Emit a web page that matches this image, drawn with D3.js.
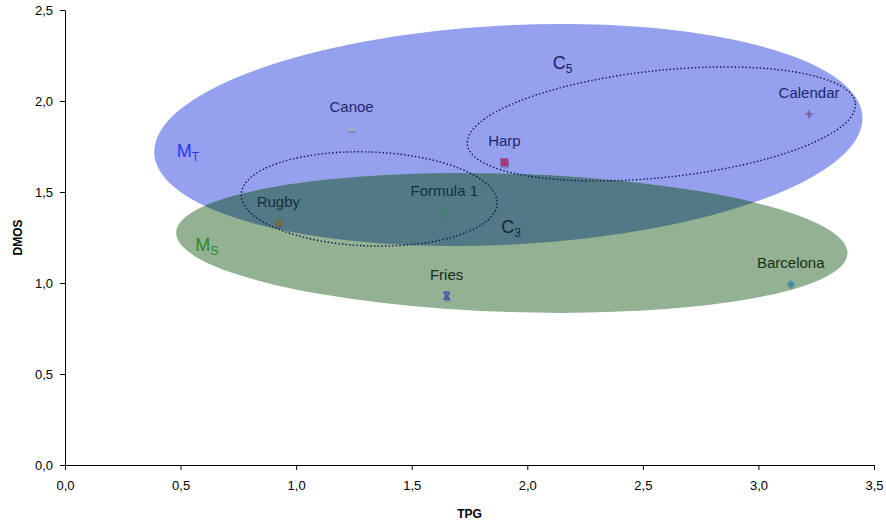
<!DOCTYPE html>
<html><head><meta charset="utf-8">
<script src="https://cdn.jsdelivr.net/npm/d3@7/dist/d3.min.js"></script>
<style>
body{margin:0;background:#fff}
svg{display:block}
text{font-family:"Liberation Sans",Arial,sans-serif}
</style>
</head><body>
<svg id="chart" width="886" height="526"></svg>
<script>
// ---- data ----
const pointNames = ["Canoe","Harp","Calendar","Rugby","Formula 1","Fries","Barcelona"];
const tpgValues  = [1.240, 1.901, 3.219, 0.923, 1.641, 1.651, 3.140];
const dmosValues = [1.850, 1.663, 1.929, 1.328, 1.390, 0.930, 0.995];
const xTickValues = [0, 0.5, 1, 1.5, 2, 2.5, 3, 3.5];
const yTickValues = [0, 0.5, 1, 1.5, 2, 2.5];
const xTitle = "TPG";
const yTitle = "DMOS";

// cluster ellipses (data units)
const clusterIds   = ["MT", "MS", "C3", "C5"];
const clusterCx    = [1.918, 1.933, 1.316, 2.580];
const clusterCy    = [1.813, 1.220, 1.462, 1.874];
const clusterRx    = [1.534, 1.453, 0.554, 0.844];
const clusterRy    = [0.602, 0.380, 0.258, 0.294];
const clusterTilt  = [-3.0, 1.8, 2.0, -6.0];
// cluster labels
const labelMain = ["M", "M", "C", "C"];
const labelSub  = ["T", "S", "3", "5"];
const labelX    = [0.483, 0.563, 1.887, 2.110];
const labelY    = [1.694, 1.178, 1.275, 2.177];

// ---- styles ----
const markerStyle = {
  "Canoe":     {shape:"triangle", color:"#a7acc2"},
  "Harp":      {shape:"square",   color:"#a23c7e"},
  "Calendar":  {shape:"plus",     color:"#7a4c8e"},
  "Rugby":     {shape:"circle",   color:"#6f6a48"},
  "Formula 1": {shape:"x",        color:"#3f8c6c"},
  "Fries":     {shape:"star",     color:"#4a48b4"},
  "Barcelona": {shape:"diamond",  color:"#3f8fa6"}
};
const clusterStyle = {
  MT:{fill:"#95a1ee", text:"#2b37ee"},
  MS:{fill:"#93b293", text:"#2a8a2a"},
  C3:{dotted:true, text:"#13283a"},
  C5:{dotted:true, text:"#1b2068"}
};
const overlapFill = "#527985";

const svg = d3.select("#chart");
const x = d3.scaleLinear().domain([0, 3.5]).range([65, 874]);
const y = d3.scaleLinear().domain([0, 2.5]).range([465, 10]);

const ell = clusterIds.map((id, i) => ({
  id,
  cx: x(clusterCx[i]), cy: y(clusterCy[i]),
  rx: x(clusterRx[i]) - x(0), ry: y(0) - y(clusterRy[i]),
  tilt: clusterTilt[i]
}));
const byId = Object.fromEntries(ell.map(e => [e.id, e]));

function inside(e, px, py){
  const a = -e.tilt * Math.PI/180;
  const dx = px - e.cx, dy = py - e.cy;
  const u = dx*Math.cos(a) - dy*Math.sin(a);
  const v = dx*Math.sin(a) + dy*Math.cos(a);
  return (u*u)/(e.rx*e.rx) + (v*v)/(e.ry*e.ry) <= 1;
}
function textColorAt(px, py){
  const inB = inside(byId.MT, px, py), inG = inside(byId.MS, px, py);
  if (inB && inG) return "#17303c";
  if (inB) return "#1d286c";
  if (inG) return "#17301a";
  return "#000";
}

const defs = svg.append("defs");
defs.append("clipPath").attr("id","clipBlue")
  .append("ellipse").attr("cx", byId.MT.cx).attr("cy", byId.MT.cy)
  .attr("rx", byId.MT.rx).attr("ry", byId.MT.ry)
  .attr("transform", `rotate(${byId.MT.tilt},${byId.MT.cx},${byId.MT.cy})`);

// filled regions
const gFill = svg.append("g");
["MT","MS"].forEach(id => {
  const e = byId[id];
  gFill.append("ellipse")
    .attr("cx", e.cx).attr("cy", e.cy).attr("rx", e.rx).attr("ry", e.ry)
    .attr("transform", `rotate(${e.tilt},${e.cx},${e.cy})`)
    .attr("fill", clusterStyle[id].fill);
});
{
  const e = byId.MS;
  gFill.append("g").attr("clip-path","url(#clipBlue)")
    .append("ellipse")
    .attr("cx", e.cx).attr("cy", e.cy).attr("rx", e.rx).attr("ry", e.ry)
    .attr("transform", `rotate(${e.tilt},${e.cx},${e.cy})`)
    .attr("fill", overlapFill);
}

// axes
const fmt = d => d3.format(".1f")(d).replace(".", ",");
const xAxis = svg.append("g").attr("transform", `translate(0,${y(0)})`)
  .call(d3.axisBottom(x).tickValues(xTickValues).tickFormat(fmt).tickSize(5).tickSizeOuter(0).tickPadding(11));
const yAxis = svg.append("g").attr("transform", `translate(${x(0)},0)`)
  .call(d3.axisLeft(y).tickValues(yTickValues).tickFormat(fmt).tickSize(5).tickSizeOuter(0).tickPadding(7));
[xAxis, yAxis].forEach(g => {
  g.selectAll("path,line").attr("stroke","#000").attr("stroke-width",1);
  g.selectAll("text").attr("fill","#000").style("font-size","13px")
    .style("font-family",'"Liberation Sans",Arial,sans-serif');
});

svg.append("text").attr("x", (x(0)+x(3.5))/2).attr("y", 518)
  .attr("text-anchor","middle").style("font-size","12px").style("font-weight","bold").text(xTitle);
svg.append("text").attr("transform", `translate(22,${(y(0)+y(2.5))/2}) rotate(-90)`)
  .attr("text-anchor","middle").style("font-size","12px").style("font-weight","bold").text(yTitle);

// dotted cluster outlines
["C3","C5"].forEach(id => {
  const e = byId[id];
  svg.append("ellipse")
    .attr("cx", e.cx).attr("cy", e.cy).attr("rx", e.rx).attr("ry", e.ry)
    .attr("transform", `rotate(${e.tilt},${e.cx},${e.cy})`)
    .attr("fill","none").attr("stroke","#10124a").attr("stroke-width",1.4)
    .attr("stroke-dasharray","1.4,2.2");
});

// markers
function markerPath(shape){
  const p = d3.path();
  switch(shape){
    case "triangle": p.moveTo(0,-4.5); p.lineTo(4,3); p.lineTo(-4,3); p.closePath(); break;
    case "square": p.rect(-4,-4,8,8); break;
    case "diamond": p.moveTo(0,-4); p.lineTo(4,0); p.lineTo(0,4); p.lineTo(-4,0); p.closePath(); break;
    case "circle": p.arc(0,0,4,0,2*Math.PI); break;
    case "plus": p.moveTo(-3.5,0); p.lineTo(3.5,0); p.moveTo(0,-3.5); p.lineTo(0,3.5); break;
    case "x": p.moveTo(-3,-3); p.lineTo(3,3); p.moveTo(3,-3); p.lineTo(-3,3); break;
    case "star": p.moveTo(-3,-3.5); p.lineTo(3,3.5); p.moveTo(3,-3.5); p.lineTo(-3,3.5);
                 p.moveTo(-3,-3.5); p.lineTo(3,-3.5); p.moveTo(-3,3.5); p.lineTo(3,3.5); break;
  }
  return p.toString();
}
const lineShapes = new Set(["plus","x","star"]);
const pts = pointNames.map((n,i) => ({name:n, px:x(tpgValues[i]), py:y(dmosValues[i])}));
const gm = svg.append("g");
pts.forEach(d => {
  const st = markerStyle[d.name];
  const isLine = lineShapes.has(st.shape);
  // shadow
  gm.append("path").attr("d", markerPath(st.shape))
    .attr("transform", `translate(${d.px+0.5},${d.py+2})`)
    .attr(isLine ? "stroke" : "fill", "rgba(70,80,150,0.35)")
    .attr("fill", isLine ? "none" : "rgba(70,80,150,0.35)")
    .attr("stroke-width", isLine ? 1.3 : null);
  gm.append("path").attr("d", markerPath(st.shape))
    .attr("transform", `translate(${d.px},${d.py})`)
    .attr("fill", isLine ? "none" : st.color)
    .attr("stroke", isLine ? st.color : "none")
    .attr("stroke-width", isLine ? 1.3 : null);
});

// point labels
svg.append("g").selectAll("text").data(pts).join("text")
  .attr("x", d => d.px).attr("y", d => d.py - 16)
  .attr("text-anchor","middle").style("font-size","15px")
  .attr("fill", d => textColorAt(d.px, d.py - 20))
  .text(d => d.name);

// cluster labels
clusterIds.forEach((id, i) => {
  const t = svg.append("text").attr("x", x(labelX[i])).attr("y", y(labelY[i]))
    .attr("fill", clusterStyle[id].text).style("font-size","18px");
  t.append("tspan").text(labelMain[i]);
  t.append("tspan").attr("dy", 4).style("font-size","12px").text(labelSub[i]);
});
</script>
</body></html>
